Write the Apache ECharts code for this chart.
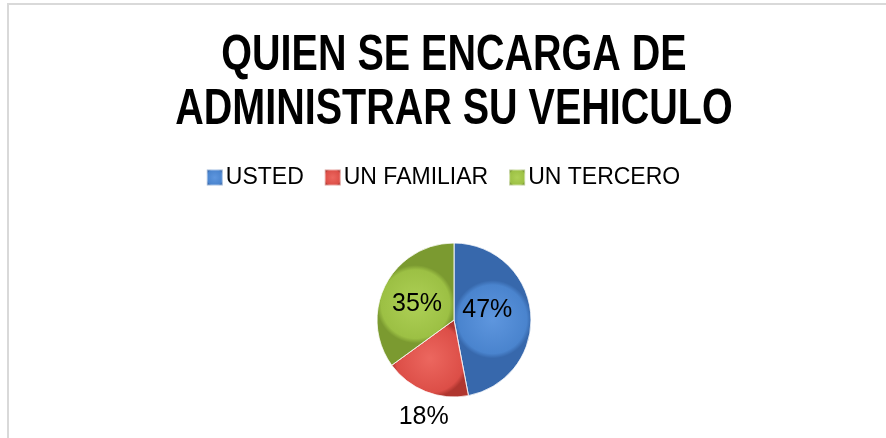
<!DOCTYPE html>
<html>
<head>
<meta charset="utf-8">
<script src="https://cdn.jsdelivr.net/npm/echarts@6/dist/echarts.min.js"></script>
<style>
  html, body { margin: 0; padding: 0; background: #fff; overflow: hidden; }
  #frame { position: absolute; left: 7px; top: 3px; width: 920px; height: 500px; border: 2px solid #d9d9d9; }
  #pie-chart { position: absolute; left: 0; top: 0; width: 886px; height: 438px; }
</style>
</head>
<body>
<div id="frame"></div>
<div id="pie-chart"></div>
<script>
var titulo = 'QUIEN SE ENCARGA DE\nADMINISTRAR SU VEHICULO';
var categorias = ['USTED', 'UN FAMILIAR', 'UN TERCERO'];
var porcentajes = [47, 18, 35];
var colores = [
  ['#5e96de', '#4a84ce', '#3768ac'],
  ['#ec675f', '#dc4e47', '#b0362f'],
  ['#aed056', '#9cc044', '#7b9a30']
];
var fuente = "'Liberation Sans Narrow', 'Arial Narrow', 'Liberation Sans', sans-serif";

var myChart = echarts.init(document.getElementById('pie-chart'));

var datos = categorias.map(function (nombre, i) {
  return {
    name: nombre,
    value: porcentajes[i],
    itemStyle: {
      color: new echarts.graphic.RadialGradient(0.5, 0.5, 0.5, [
        { offset: 0, color: colores[i][0] },
        { offset: 0.88, color: colores[i][1] },
        { offset: 1, color: colores[i][2] }
      ])
    }
  };
});

myChart.setOption({
  graphic: [
    {
      type: 'text',
      x: 454,
      y: 29,
      scaleX: 0.79,
      silent: true,
      style: {
        text: titulo,
        align: 'center',
        verticalAlign: 'top',
        fontFamily: fuente,
        fontWeight: 'bold',
        fontSize: 50,
        lineHeight: 54,
        fill: '#000'
      }
    }
  ],
  legend: {
    data: categorias,
    top: 161,
    left: 'center',
    icon: 'rect',
    itemWidth: 16,
    itemHeight: 16,
    itemGap: 20,
    textStyle: {
      fontFamily: fuente,
      fontSize: 23,
      color: '#000',
      padding: [0, 0, 0, -2]
    }
  },
  series: [
    {
      type: 'pie',
      center: [454, 320],
      radius: 77,
      startAngle: 90,
      clockwise: true,
      silent: true,
      label: {
        show: true,
        position: 'inside',
        formatter: '{d}%',
        fontFamily: fuente,
        fontSize: 25,
        color: '#000'
      },
      // ajuste de etiquetas como en el original (18% va debajo, fuera)
      labelLayout: function (params) {
        if (params.dataIndex === 0) {
          return { dx: -8, dy: -6 };
        }
        if (params.dataIndex === 1) {
          return { dx: -15, dy: 59 };
        }
        if (params.dataIndex === 2) {
          return { dy: 3 };
        }
      },
      itemStyle: {
        borderColor: 'rgba(255,255,255,0.5)',
        borderWidth: 1
      },
      data: datos
    }
  ]
});
</script>
</body>
</html>
